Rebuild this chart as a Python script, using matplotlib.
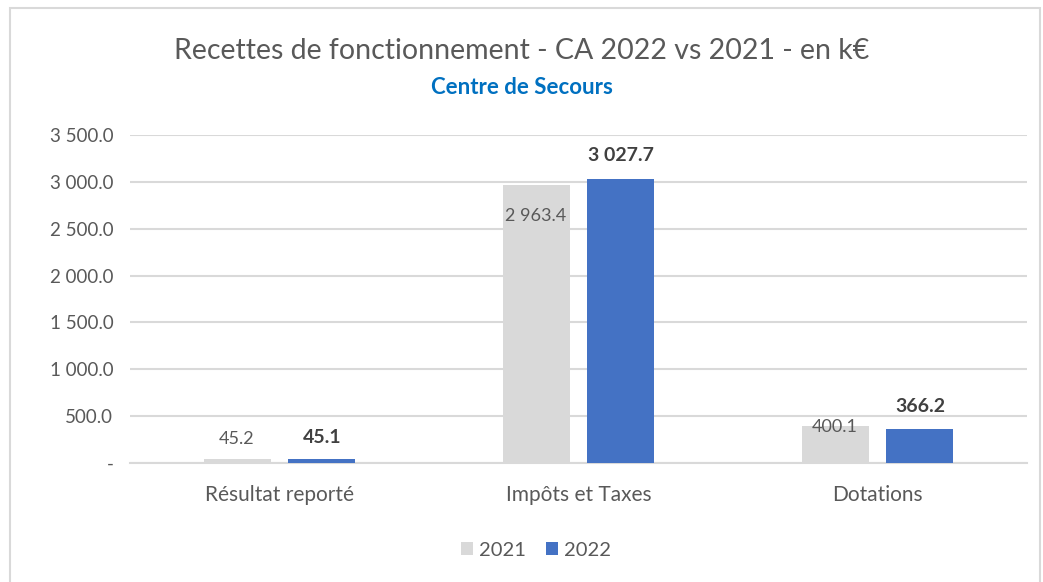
import matplotlib.pyplot as plt
import numpy as np
from matplotlib.patches import Rectangle
from matplotlib.ticker import FuncFormatter

plt.rcParams['font.family'] = ['Lato', 'DejaVu Sans']

categories = ["Résultat reporté", "Impôts et Taxes", "Dotations"]
values_2021 = [45.2, 2963.4, 400.1]
values_2022 = [45.1, 3027.7, 366.2]
years = ["2021", "2022"]

# label offsets in points (2021 labels sit inside the bars for the tall ones)
offsets_2021 = [14, -22, -1]
offsets_2022 = [15, 17, 16]


def fr_num(v, pos=None):
    if abs(v) < 1e-9:
        return "-"
    s = f"{v:,.1f}".replace(",", " ")
    return s


gray = "#D9D9D9"
blue = "#4472C4"
text_col = "#595959"

fig = plt.figure(figsize=(10.43, 5.82), dpi=100)
fig.patches.append(Rectangle((10 / 1043, -0.01), 1030 / 1043, 1 - 8 / 582 + 0.01,
                             transform=fig.transFigure, fill=False,
                             edgecolor=gray, linewidth=1.5))

ax = fig.add_axes([130 / 1043, 1 - 463 / 582, 897 / 1043, 328 / 582])
x = np.arange(len(categories))
w = 0.224
off = 0.142
b1 = ax.bar(x - off, values_2021, w, color=gray, label=years[0], zorder=3)
b2 = ax.bar(x + off, values_2022, w, color=blue, label=years[1], zorder=3)

for rect, v, o in zip(b1, values_2021, offsets_2021):
    ax.annotate(fr_num(v), (rect.get_x() + rect.get_width() / 2, rect.get_height()),
                xytext=(0, o), textcoords="offset points", ha="center", va="center",
                fontsize=13, color=text_col, zorder=4)
for rect, v, o in zip(b2, values_2022, offsets_2022):
    ax.annotate(fr_num(v), (rect.get_x() + rect.get_width() / 2, rect.get_height()),
                xytext=(0, o), textcoords="offset points", ha="center", va="center",
                fontsize=14, color="#404040", fontweight="bold", zorder=4)

ax.set_xlim(-0.5, 2.5)
ax.set_ylim(0, 3500)
ax.set_yticks(np.arange(0, 3501, 500))
ax.yaxis.set_major_formatter(FuncFormatter(fr_num))
ax.set_xticks(x)
ax.set_xticklabels(categories, fontsize=15)
ax.tick_params(axis="both", length=0, labelcolor=text_col)
ax.tick_params(axis="y", labelsize=13.5, pad=12)
ax.tick_params(axis="x", pad=16)
ax.grid(axis="y", color=gray, linewidth=1.5, zorder=0)
for side in ["top", "left", "right"]:
    ax.spines[side].set_visible(False)
ax.spines["bottom"].set_color(gray)
ax.spines["bottom"].set_linewidth(1.5)

fig.text(0.5, 1 - 51 / 582, "Recettes de fonctionnement - CA 2022 vs 2021 - en k€",
         ha="center", va="center", fontsize=20.5, color=text_col)
fig.text(0.5, 1 - 87 / 582, "Centre de Secours", ha="center", va="center",
         fontsize=16, color="#0070C0", fontweight="bold")

fig.legend(loc="center", bbox_to_anchor=(0.514, 1 - 550 / 582), ncol=2, frameon=False,
           fontsize=14.5, labelcolor=text_col, handlelength=0.6, handleheight=0.6,
           handletextpad=0.3, columnspacing=1.0)

fig.savefig("out.png", dpi=100)
